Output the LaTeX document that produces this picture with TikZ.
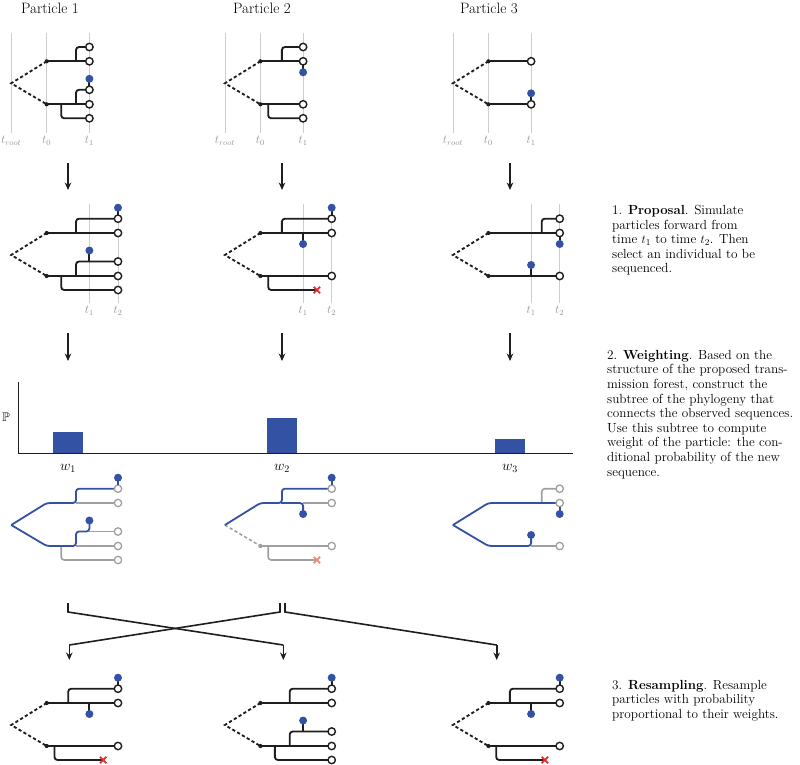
\documentclass[tikz,border=0pt]{standalone}
\usepackage{amssymb}
\usetikzlibrary{arrows.meta}
\definecolor{ink}{RGB}{30,30,30}
\definecolor{pblue}{RGB}{52,82,164}
\definecolor{tline}{RGB}{205,205,205}
\definecolor{tlab}{RGB}{150,150,150}
\definecolor{wgray}{RGB}{160,160,160}
\definecolor{xred}{RGB}{225,45,45}
\definecolor{xpink}{RGB}{240,140,115}
\tikzset{
  br/.style={draw=ink,line width=1.85pt,rounded corners=3pt},
  dsh/.style={draw=ink,line width=1.85pt,dash pattern=on 3.2pt off 2.4pt},
  wdsh/.style={draw=wgray,line width=1.6pt,dash pattern=on 3.2pt off 2.4pt},
  tipc/.style={draw=ink,fill=white,line width=1.4pt},
  wbl/.style={draw=pblue,line width=1.8pt,rounded corners=3pt},
  wgr/.style={draw=wgray,line width=1.6pt,rounded corners=3pt},
  wtip/.style={draw=wgray,fill=white,line width=1.3pt},
  tl/.style={draw=tline,line width=0.8pt},
  tlabel/.style={text=tlab,font=\fontsize{11.5}{13}\selectfont,inner sep=0pt},
  title/.style={font=\fontsize{15}{18}\selectfont,inner sep=0pt},
  desc/.style={font=\fontsize{13.2}{14.6}\selectfont,inner sep=0pt,align=left,anchor=north west},
  arr/.style={draw=ink,line width=1.6pt,-{Stealth[length=7.5pt,width=6.5pt]}},
  rs/.style={draw=ink,line width=1.6pt},
  bar/.style={fill=pblue,draw=none},
  axis/.style={draw=ink,line width=1.4pt},
}
\newcommand\tip[2]{\draw[tipc] (#1,#2) circle (3.7);}
\newcommand\wtp[2]{\draw[wtip] (#1,#2) circle (3.7);}
\newcommand\bd[2]{\fill[pblue] (#1,#2) circle (4);}
\newcommand\xm[3]{\draw[#3,line width=1.8pt] ({#1-3.2},{#2-3.2}) -- ({#1+3.2},{#2+3.2}) ({#1-3.2},{#2+3.2}) -- ({#1+3.2},{#2-3.2});}
\newcommand\rootsk{\draw[dsh] (35.5,-22) -- (0,0) -- (35.5,21); \fill[ink] (35.5,-22) circle (2.1) (35.5,21) circle (2.1);}
\newcommand\treeAone{%
 \rootsk
 \draw[br] (35.5,-22) -- (78.2,-22);
 \draw[br] (64.8,-22) -- (64.8,-36.3) -- (78.2,-36.3);
 \draw[br] (35.5,21) -- (78.2,21);
 \draw[br] (64.8,21) -- (64.8,6.5) -- (78.2,6.5);
 \draw[br] (50,21) -- (50,35) -- (78.2,35);
 \draw[br] (78.2,6.5) -- (78.2,-4.5); \bd{78.2}{-4.5}
 \tip{78.2}{-36.3}\tip{78.2}{-22}\tip{78.2}{6.5}\tip{78.2}{21}\tip{78.2}{35}}
\newcommand\treeBone{%
 \rootsk
 \draw[br] (35.5,-22) -- (78.2,-22);
 \draw[br] (57,-22) -- (57,-36.3) -- (78.2,-36.3);
 \draw[br] (35.5,21) -- (78.2,21);
 \draw[br] (43.3,21) -- (43.3,35) -- (78.2,35);
 \draw[br] (78.2,-22) -- (78.2,-11); \bd{78.2}{-11}
 \tip{78.2}{-36.3}\tip{78.2}{-22}\tip{78.2}{21}\tip{78.2}{35}}
\newcommand\treeCone{%
 \rootsk
 \draw[br] (35.5,-22) -- (78.2,-22);
 \draw[br] (35.5,21) -- (78.2,21);
 \draw[br] (78.2,21) -- (78.2,10); \bd{78.2}{10}
 \tip{78.2}{-22}\tip{78.2}{21}}
\newcommand\treeAtwo{%
 \rootsk
 \draw[br] (35.5,-22) -- (106.8,-22);
 \draw[br] (64.8,-22) -- (64.8,-36.3) -- (106.8,-36.3);
 \draw[br] (35.5,21) -- (106.8,21);
 \draw[br] (64.8,21) -- (64.8,6.5) -- (106.8,6.5);
 \draw[br] (50,21) -- (50,35) -- (106.8,35);
 \draw[br] (106.8,-36.3) -- (106.8,-47.3); \bd{106.8}{-47.3}
 \draw[br] (78.2,6.5) -- (78.2,-4.5); \bd{78.2}{-4.5}
 \tip{106.8}{-36.3}\tip{106.8}{-22}\tip{106.8}{6.5}\tip{106.8}{21}\tip{106.8}{35}}
\newcommand\treeBtwo{%
 \rootsk
 \draw[br] (35.5,-22) -- (106.8,-22);
 \draw[br] (57,-22) -- (57,-36.3) -- (106.8,-36.3);
 \draw[br] (35.5,21) -- (106.8,21);
 \draw[br] (43.3,21) -- (43.3,35) -- (92,35);
 \draw[br] (106.8,-36.3) -- (106.8,-47.3); \bd{106.8}{-47.3}
 \draw[br] (78.2,-22) -- (78.2,-11); \bd{78.2}{-11}
 \xm{92}{35}{xred}
 \tip{106.8}{-36.3}\tip{106.8}{-22}\tip{106.8}{21}}
\newcommand\treeCtwo{%
 \rootsk
 \draw[br] (35.5,-22) -- (106.8,-22);
 \draw[br] (88.8,-22) -- (88.8,-36.3) -- (106.8,-36.3);
 \draw[br] (35.5,21) -- (106.8,21);
 \draw[br] (106.8,-22) -- (106.8,-11); \bd{106.8}{-11}
 \draw[br] (78.2,21) -- (78.2,10); \bd{78.2}{10}
 \tip{106.8}{-36.3}\tip{106.8}{-22}\tip{106.8}{21}}
\newcommand\treeWA{%
 \draw[wgr] (64.8,-22) -- (106.8,-22);
 \draw[wgr] (64.8,21) -- (106.8,21);
 \draw[wgr] (50,21) -- (50,35) -- (106.8,35);
 \draw[wgr] (78.2,6.5) -- (106.8,6.5);
 \draw[wbl] (0,0) -- (35.5,-22) -- (64.8,-22) -- (64.8,-36.3) -- (106.8,-36.3);
 \draw[wbl] (0,0) -- (35.5,21) -- (64.8,21) -- (64.8,6.5) -- (78.2,6.5) -- (78.2,-4.5);
 \wtp{106.8}{-36.3}\wtp{106.8}{-22}\wtp{106.8}{6.5}\wtp{106.8}{21}\wtp{106.8}{35}
 \draw[wbl] (106.8,-36.3) ++(0,-3.7) -- (106.8,-47.3); \bd{106.8}{-47.3}
 \bd{78.2}{-4.5}}
\newcommand\treeWB{%
 \draw[wdsh] (0,0) -- (35.5,21); \fill[wgray] (35.5,21) circle (2.1);
 \draw[wgr] (35.5,21) -- (106.8,21);
 \draw[wgr] (43.3,21) -- (43.3,35) -- (92,35);
 \draw[wgr] (78.2,-22) -- (106.8,-22);
 \xm{92}{35}{xpink}
 \draw[wbl] (0,0) -- (35.5,-22) -- (57,-22) -- (57,-36.3) -- (106.8,-36.3);
 \draw[wbl] (56,-22) -- (78.2,-22) -- (78.2,-11); \bd{78.2}{-11}
 \wtp{106.8}{-36.3}\wtp{106.8}{-22}\wtp{106.8}{21}
 \draw[wbl] (106.8,-36.3) ++(0,-3.7) -- (106.8,-47.3); \bd{106.8}{-47.3}}
\newcommand\treeWC{%
 \draw[wgr] (88.8,-22) -- (88.8,-36.3) -- (106.8,-36.3);
 \draw[wgr] (78.2,21) -- (106.8,21);
 \draw[wbl] (0,0) -- (35.5,-22) -- (106.8,-22);
 \draw[wbl] (0,0) -- (35.5,21) -- (78.2,21) -- (78.2,10); \bd{78.2}{10}
 \wtp{106.8}{-36.3}\wtp{106.8}{-22}\wtp{106.8}{21}
 \draw[wbl] (106.8,-22) ++(0,3.7) -- (106.8,-11); \bd{106.8}{-11}}
\newcommand\timesone{%
 \draw[tl] (0,-50.3) -- (0,49.7) (35.5,-50.3) -- (35.5,49.7) (78.2,-50.3) -- (78.2,49.7);
 \node[tlabel] (lr) at (0,57.7) {$t_{root}$};
 \node[tlabel] (l0) at (35.5,57.7) {$t_0$};
 \node[tlabel] (l1) at (78.2,57.7) {$t_1$};}
\newcommand\timestwo{%
 \draw[tl] (78.2,-51) -- (78.2,48.3) (106.8,-51) -- (106.8,48.3);
 \node[tlabel] (m1) at (78.2,55.7) {$t_1$};
 \node[tlabel] (m2) at (106.8,55.7) {$t_2$};}
\begin{document}
\begin{tikzpicture}[x=1pt,y=-1pt]
\useasboundingbox (0,0) rectangle (800,764);
% titles
\node[title] (p1) at (50,8.5) {Particle 1};
\node[title] (p2) at (262,8.5) {Particle 2};
\node[title] (p3) at (489,8.5) {Particle 3};
% row 1
\begin{scope}[shift={(11.2,83.3)}]\timesone\treeAone\end{scope}
\begin{scope}[shift={(224.9,83.3)}]\timesone\treeBone\end{scope}
\begin{scope}[shift={(452.9,83.3)}]\timesone\treeCone\end{scope}
% arrows row 1
\coordinate (a1s) at (68,163); \coordinate (a1e) at (68,190);
\coordinate (a2s) at (282,163); \coordinate (a2e) at (282,190);
\coordinate (a3s) at (510,163); \coordinate (a3e) at (510,190);
\draw[arr] (a1s) -- (a1e); \draw[arr] (a2s) -- (a2e); \draw[arr] (a3s) -- (a3e);
% row 2
\begin{scope}[shift={(11.2,255)}]\timestwo\treeAtwo\end{scope}
\begin{scope}[shift={(224.9,255)}]\timestwo\treeBtwo\end{scope}
\begin{scope}[shift={(452.9,255)}]\timestwo\treeCtwo\end{scope}
% arrows row 2
\coordinate (b1s) at (68,333); \coordinate (b1e) at (68,361);
\coordinate (b2s) at (282,333); \coordinate (b2e) at (282,361);
\coordinate (b3s) at (510,333); \coordinate (b3e) at (510,361);
\draw[arr] (b1s) -- (b1e); \draw[arr] (b2s) -- (b2e); \draw[arr] (b3s) -- (b3e);
% bar chart
\fill[bar] (53.3,432) rectangle (82.7,453.3);
\fill[bar] (267,418) rectangle (297,453.3);
\fill[bar] (495,439) rectangle (525,453.3);
\coordinate (ax0) at (18.3,453.3); \coordinate (axt) at (18.3,382); \coordinate (axr) at (573,453.3);
\draw[axis] (axt) -- (ax0) -- (axr);
\node[font=\fontsize{12.5}{14}\selectfont,inner sep=0pt] (P) at (6,417) {$\mathbb{P}$};
\node[font=\fontsize{14}{16}\selectfont,inner sep=0pt] (w1) at (68,468) {$w_1$};
\node[font=\fontsize{14}{16}\selectfont,inner sep=0pt] (w2) at (282,468) {$w_2$};
\node[font=\fontsize{14}{16}\selectfont,inner sep=0pt] (w3) at (510,468) {$w_3$};
% row 3 weighting trees
\begin{scope}[shift={(11.2,525)}]\treeWA\end{scope}
\begin{scope}[shift={(224.9,525)}]\treeWB\end{scope}
\begin{scope}[shift={(452.9,525)}]\treeWC\end{scope}
% resampling
\coordinate (s1) at (68,603); \coordinate (s1b) at (68,612);
\coordinate (s2) at (280,603); \coordinate (s2b) at (280,612);
\coordinate (s3) at (285,603); \coordinate (s3b) at (285,612);
\coordinate (e1) at (69.3,645); \coordinate (e1b) at (69.3,660);
\coordinate (e2) at (283.3,645); \coordinate (e2b) at (283.3,660);
\coordinate (e3) at (496.7,645); \coordinate (e3b) at (496.7,660);
\draw[rs] (s1) -- (s1b) -- (e2); \draw[arr] (e2) -- (e2b);
\draw[rs] (s2) -- (s2b) -- (e1); \draw[arr] (e1) -- (e1b);
\draw[rs] (s3) -- (s3b) -- (e3); \draw[arr] (e3) -- (e3b);
% row 4
\begin{scope}[shift={(11.2,725)}]\treeBtwo\end{scope}
\begin{scope}[shift={(224.9,725)}]\treeAtwo\end{scope}
\begin{scope}[shift={(452.9,725)}]\treeBtwo\end{scope}
% descriptions
\node[desc] (d1) at (612,205) {1. \textbf{Proposal}. Simulate\\particles forward from\\time $t_1$ to time $t_2$. Then\\select an individual to be\\sequenced.};
\node[desc] (d2) at (607,350) {2. \textbf{Weighting}. Based on the\\structure of the proposed trans-\\mission forest, construct the\\subtree of the phylogeny that\\connects the observed sequences.\\Use this subtree to compute\\weight of the particle: the con-\\ditional probability of the new\\sequence.};
\node[desc] (d3) at (612,680) {3. \textbf{Resampling}. Resample\\particles with probability\\proportional to their weights.};
\end{tikzpicture}
\end{document}
